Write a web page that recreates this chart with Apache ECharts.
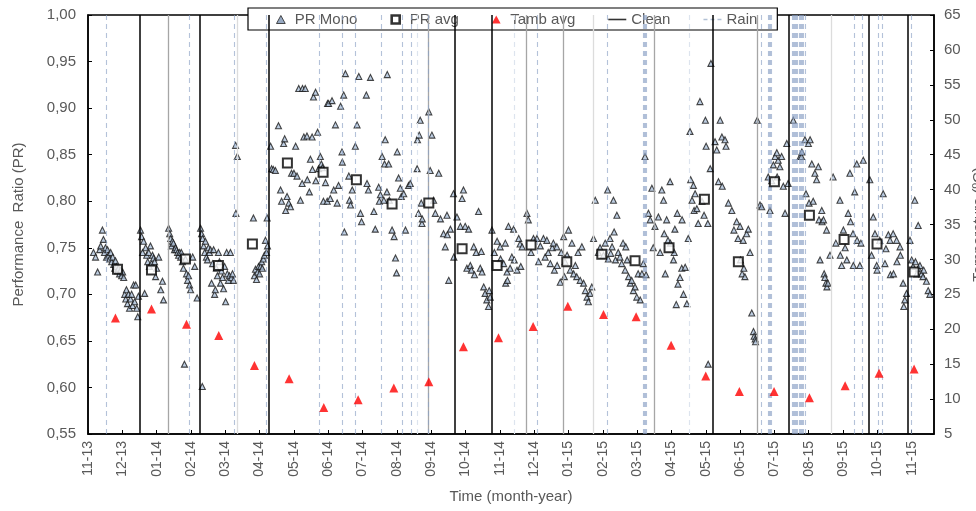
<!DOCTYPE html>
<html>
<head>
<meta charset="utf-8">
<script src="https://cdn.jsdelivr.net/npm/echarts@6/dist/echarts.min.js"></script>
<style>
  html, body { margin: 0; padding: 0; background: #fff; }
  #chart { width: 976px; height: 511px; }
</style>
</head>
<body>
<div id="chart"></div>
<script>
// x values are months counted from 1 Nov 2013 (0 = 11-13, 24 = 11-15)
var monthLabels = ['11-13', '12-13', '01-14', '02-14', '03-14', '04-14', '05-14', '06-14', '07-14',
  '08-14', '09-14', '10-14', '11-14', '12-14', '01-15', '02-15', '03-15', '04-15', '05-15',
  '06-15', '07-15', '08-15', '09-15', '10-15', '11-15'];

// daily PR of the mono module [month, PR]
var prMono = [
  [0.16, 0.745], [0.22, 0.74], [0.28, 0.724], [0.34, 0.748], [0.37, 0.752], [0.42, 0.769], [0.45, 0.759],
  [0.48, 0.745], [0.51, 0.75], [0.54, 0.74], [0.57, 0.748], [0.60, 0.742], [0.63, 0.738], [0.66, 0.745],
  [0.69, 0.735], [0.72, 0.74], [0.75, 0.732], [0.78, 0.728], [0.80, 0.736], [0.83, 0.73], [0.86, 0.725],
  [0.89, 0.728], [0.92, 0.722], [0.95, 0.726], [0.98, 0.72], [1.01, 0.724], [1.04, 0.718],
  [1.07, 0.70], [1.10, 0.695], [1.12, 0.705], [1.15, 0.69], [1.18, 0.70], [1.21, 0.685], [1.24, 0.695],
  [1.27, 0.70], [1.30, 0.688], [1.33, 0.71], [1.36, 0.692], [1.39, 0.71], [1.42, 0.685], [1.45, 0.676],
  [1.47, 0.698],
  [1.53, 0.769], [1.56, 0.762], [1.59, 0.745], [1.62, 0.757], [1.65, 0.701], [1.68, 0.75], [1.71, 0.742],
  [1.74, 0.735], [1.77, 0.745], [1.79, 0.73], [1.82, 0.752], [1.85, 0.733], [1.88, 0.742], [1.91, 0.739],
  [1.94, 0.735], [1.97, 0.719], [2.00, 0.728], [2.06, 0.74], [2.12, 0.705], [2.17, 0.714], [2.20, 0.694],
  [2.35, 0.771], [2.38, 0.765], [2.41, 0.76], [2.43, 0.752], [2.46, 0.757], [2.49, 0.755], [2.52, 0.748],
  [2.55, 0.75], [2.58, 0.748], [2.61, 0.745], [2.64, 0.742], [2.67, 0.745], [2.70, 0.74], [2.72, 0.745],
  [2.75, 0.735], [2.78, 0.728], [2.81, 0.625], [2.84, 0.738], [2.87, 0.722], [2.90, 0.715], [2.93, 0.72],
  [2.96, 0.71], [2.99, 0.705], [3.05, 0.74], [3.11, 0.73], [3.18, 0.696],
  [3.28, 0.771], [3.31, 0.765], [3.33, 0.601], [3.34, 0.76], [3.37, 0.752], [3.40, 0.745], [3.42, 0.757],
  [3.45, 0.74], [3.48, 0.737], [3.51, 0.75], [3.54, 0.745], [3.57, 0.748], [3.60, 0.712], [3.63, 0.733],
  [3.66, 0.748], [3.69, 0.70], [3.71, 0.705], [3.74, 0.728], [3.77, 0.72], [3.80, 0.745], [3.83, 0.735],
  [3.86, 0.712], [3.89, 0.725], [3.92, 0.718], [3.95, 0.706], [3.98, 0.73], [4.01, 0.692], [4.04, 0.745],
  [4.06, 0.722], [4.09, 0.715], [4.12, 0.72], [4.15, 0.745], [4.18, 0.718], [4.21, 0.722], [4.24, 0.715],
  [4.30, 0.86], [4.31, 0.787], [4.35, 0.848],
  [4.82, 0.782], [4.85, 0.72], [4.88, 0.727], [4.91, 0.716], [4.94, 0.724], [4.97, 0.73], [5.00, 0.722],
  [5.03, 0.73], [5.06, 0.735], [5.08, 0.728], [5.11, 0.738], [5.14, 0.742], [5.17, 0.758], [5.20, 0.745],
  [5.22, 0.782], [5.23, 0.752],
  [5.32, 0.859], [5.35, 0.835], [5.40, 0.834], [5.46, 0.833], [5.55, 0.881], [5.61, 0.812], [5.64, 0.80],
  [5.70, 0.862], [5.73, 0.867], [5.76, 0.79], [5.80, 0.805], [5.85, 0.798], [5.90, 0.794], [5.93, 0.83],
  [6.00, 0.83], [6.05, 0.859], [6.09, 0.827], [6.14, 0.921], [6.19, 0.801], [6.24, 0.819], [6.25, 0.921],
  [6.29, 0.869], [6.33, 0.921], [6.38, 0.87], [6.39, 0.823], [6.45, 0.81], [6.48, 0.845], [6.53, 0.869],
  [6.54, 0.834], [6.57, 0.912], [6.63, 0.917], [6.64, 0.822], [6.69, 0.874], [6.72, 0.835], [6.77, 0.848],
  [6.80, 0.84], [6.83, 0.836], [6.86, 0.80], [6.92, 0.82], [6.97, 0.80], [6.98, 0.905], [7.01, 0.905],
  [7.06, 0.803], [7.11, 0.908], [7.16, 0.812], [7.21, 0.882], [7.26, 0.798], [7.30, 0.817], [7.36, 0.902],
  [7.40, 0.853], [7.41, 0.842], [7.45, 0.914], [7.47, 0.767], [7.50, 0.937], [7.60, 0.827], [7.62, 0.801],
  [7.65, 0.796], [7.70, 0.812], [7.79, 0.859], [7.84, 0.882], [7.89, 0.934], [7.94, 0.787], [7.97, 0.778],
  [8.11, 0.914], [8.13, 0.819], [8.17, 0.812], [8.23, 0.933], [8.33, 0.789], [8.37, 0.77], [8.47, 0.815],
  [8.49, 0.80], [8.52, 0.807], [8.57, 0.848], [8.62, 0.801], [8.64, 0.84], [8.66, 0.866], [8.71, 0.81],
  [8.72, 0.936], [8.76, 0.84], [8.78, 0.801], [8.86, 0.769], [8.92, 0.762], [8.96, 0.739], [8.99, 0.723],
  [9.01, 0.853], [9.05, 0.825], [9.10, 0.814], [9.13, 0.805], [9.20, 0.808], [9.25, 0.769], [9.34, 0.817],
  [9.39, 0.819], [9.59, 0.835], [9.60, 0.866], [9.63, 0.787], [9.65, 0.871], [9.68, 0.887], [9.71, 0.798],
  [9.73, 0.776], [9.74, 0.781], [9.93, 0.896], [9.97, 0.833], [10.02, 0.871], [10.07, 0.801], [10.12, 0.787],
  [10.22, 0.83], [10.27, 0.781], [10.36, 0.765], [10.41, 0.751], [10.46, 0.785], [10.47, 0.764],
  [10.51, 0.715], [10.56, 0.77],
  [10.65, 0.808], [10.66, 0.74], [10.75, 0.783], [10.85, 0.773], [10.90, 0.803], [10.94, 0.812],
  [10.99, 0.773], [11.04, 0.728], [11.09, 0.77], [11.14, 0.731], [11.17, 0.726], [11.24, 0.751],
  [11.26, 0.721], [11.31, 0.745], [11.38, 0.789], [11.43, 0.728], [11.46, 0.746], [11.48, 0.724],
  [11.53, 0.708], [11.57, 0.701], [11.62, 0.694], [11.67, 0.687], [11.69, 0.704], [11.72, 0.697],
  [11.77, 0.769], [11.84, 0.745], [11.92, 0.757], [12.01, 0.751], [12.02, 0.738], [12.11, 0.733],
  [12.16, 0.755], [12.17, 0.712], [12.21, 0.724], [12.22, 0.715], [12.25, 0.773], [12.30, 0.728],
  [12.35, 0.74], [12.40, 0.77], [12.42, 0.737], [12.50, 0.726], [12.55, 0.76], [12.59, 0.754],
  [12.61, 0.73], [12.65, 0.751],
  [12.79, 0.787], [12.83, 0.78], [12.91, 0.745], [12.98, 0.76], [13.08, 0.76], [13.13, 0.735], [13.18, 0.752],
  [13.27, 0.76], [13.32, 0.74], [13.37, 0.758], [13.41, 0.745], [13.47, 0.733], [13.53, 0.75], [13.56, 0.755],
  [13.59, 0.726], [13.66, 0.751], [13.67, 0.731], [13.76, 0.713], [13.79, 0.745], [13.86, 0.762], [13.88, 0.719],
  [13.90, 0.735], [13.96, 0.742], [14.00, 0.769], [14.05, 0.726], [14.10, 0.755], [14.15, 0.722], [14.20, 0.731],
  [14.24, 0.719], [14.28, 0.745], [14.34, 0.715], [14.39, 0.751], [14.44, 0.712], [14.49, 0.704], [14.54, 0.697],
  [14.58, 0.692], [14.63, 0.701], [14.68, 0.708], [14.73, 0.76], [14.78, 0.801],
  [14.87, 0.745], [14.92, 0.75], [15.02, 0.742], [15.07, 0.755], [15.14, 0.812], [15.16, 0.738], [15.21, 0.76],
  [15.23, 0.744], [15.27, 0.751], [15.31, 0.801], [15.33, 0.767], [15.37, 0.737], [15.41, 0.785], [15.45, 0.745],
  [15.50, 0.74], [15.55, 0.733], [15.59, 0.755], [15.65, 0.726], [15.67, 0.751], [15.71, 0.737], [15.75, 0.719],
  [15.80, 0.712], [15.84, 0.715], [15.89, 0.704], [15.94, 0.708], [15.99, 0.697], [16.03, 0.722], [16.09, 0.694],
  [16.14, 0.722], [16.18, 0.733],
  [16.23, 0.848], [16.26, 0.721], [16.33, 0.787], [16.38, 0.78], [16.43, 0.814], [16.47, 0.75], [16.52, 0.773],
  [16.62, 0.783], [16.67, 0.745], [16.72, 0.812], [16.77, 0.801], [16.79, 0.765], [16.82, 0.722], [16.86, 0.78],
  [16.90, 0.758], [16.96, 0.821], [16.97, 0.755], [17.06, 0.737], [17.08, 0.745], [17.10, 0.77], [17.14, 0.689],
  [17.17, 0.787], [17.19, 0.711], [17.25, 0.718], [17.30, 0.728], [17.31, 0.78], [17.35, 0.70], [17.40, 0.729],
  [17.45, 0.69], [17.49, 0.76], [17.54, 0.875], [17.56, 0.823], [17.60, 0.801], [17.64, 0.817], [17.66, 0.79],
  [17.69, 0.808], [17.74, 0.792], [17.78, 0.776], [17.83, 0.907], [17.89, 0.80], [17.95, 0.785], [17.99, 0.887],
  [18.01, 0.859], [18.06, 0.776], [18.07, 0.625], [18.13, 0.835], [18.15, 0.948],
  [18.27, 0.864], [18.32, 0.855], [18.37, 0.821], [18.42, 0.887], [18.47, 0.869], [18.48, 0.816], [18.56, 0.866],
  [18.59, 0.859], [18.66, 0.798], [18.76, 0.79], [18.82, 0.769], [18.90, 0.778], [18.94, 0.76], [19.00, 0.773],
  [19.01, 0.737], [19.06, 0.722], [19.09, 0.758], [19.11, 0.728], [19.14, 0.719], [19.19, 0.765], [19.24, 0.77],
  [19.29, 0.745], [19.34, 0.68], [19.39, 0.66], [19.41, 0.655], [19.44, 0.652], [19.45, 0.649],
  [19.50, 0.887], [19.58, 0.796], [19.63, 0.794], [19.82, 0.826], [19.87, 0.79], [19.92, 0.822], [19.97, 0.839],
  [20.02, 0.848], [20.07, 0.852], [20.08, 0.826], [20.11, 0.844], [20.16, 0.837], [20.21, 0.848], [20.26, 0.816],
  [20.31, 0.787], [20.36, 0.862], [20.40, 0.819],
  [20.55, 0.887], [20.75, 0.848], [20.79, 0.848], [20.80, 0.853], [20.89, 0.866], [20.92, 0.808], [20.99, 0.862],
  [21.01, 0.798], [21.04, 0.866], [21.09, 0.84], [21.13, 0.80], [21.18, 0.83], [21.23, 0.823], [21.28, 0.837],
  [21.30, 0.78], [21.33, 0.737], [21.38, 0.79], [21.39, 0.778], [21.43, 0.78], [21.45, 0.722], [21.47, 0.718],
  [21.50, 0.712], [21.52, 0.769], [21.53, 0.708], [21.56, 0.712], [21.62, 0.742], [21.71, 0.826], [21.79, 0.755],
  [21.91, 0.801], [21.92, 0.742], [21.96, 0.731], [22.01, 0.769], [22.06, 0.75], [22.11, 0.737], [22.15, 0.787],
  [22.20, 0.83], [22.22, 0.778], [22.29, 0.765], [22.30, 0.731], [22.34, 0.81], [22.40, 0.84], [22.41, 0.758],
  [22.49, 0.731], [22.52, 0.755], [22.59, 0.844],
  [22.78, 0.823], [22.83, 0.742], [22.88, 0.783], [22.93, 0.765], [22.98, 0.731], [22.99, 0.726], [23.07, 0.758],
  [23.17, 0.808], [23.22, 0.733], [23.25, 0.749], [23.32, 0.764], [23.37, 0.758], [23.38, 0.721], [23.46, 0.765],
  [23.47, 0.722], [23.56, 0.758], [23.57, 0.735], [23.66, 0.751], [23.67, 0.742], [23.75, 0.712], [23.77, 0.687],
  [23.80, 0.694], [23.85, 0.701],
  [23.95, 0.758], [24.00, 0.737], [24.04, 0.73], [24.09, 0.801], [24.11, 0.735], [24.15, 0.722], [24.19, 0.774],
  [24.20, 0.728], [24.24, 0.731], [24.29, 0.722], [24.33, 0.719], [24.35, 0.726], [24.43, 0.714], [24.48, 0.704],
  [24.53, 0.70]
];

// monthly averages
var avgMonths = [0.86, 1.85, 2.84, 3.80, 4.79, 5.81, 6.85, 7.82, 8.86, 9.93, 10.90, 11.92,
  12.91, 13.95, 14.97, 15.94, 16.93, 17.96, 18.95, 20.00, 21.02, 22.03, 22.99, 24.07];
var prAvg = [0.727, 0.726, 0.738, 0.731, 0.754, 0.841, 0.831, 0.823, 0.797, 0.798, 0.749, 0.731,
  0.753, 0.735, 0.743, 0.736, 0.750, 0.802, 0.735, 0.821, 0.785, 0.759, 0.754, 0.724];
var tambMonths = [0.80, 1.85, 2.87, 3.81, 4.85, 5.86, 6.87, 7.87, 8.91, 9.93, 10.94, 11.96,
  12.97, 13.98, 15.02, 15.97, 16.99, 18.00, 18.98, 19.99, 21.02, 22.06, 23.05, 24.07];
var tambAvg = [21.6, 22.9, 20.7, 19.1, 14.8, 12.9, 8.8, 9.9, 11.6, 12.5, 17.5, 18.8,
  20.4, 23.3, 22.1, 21.8, 17.7, 13.3, 11.1, 11.1, 10.2, 11.9, 13.7, 14.3];

// event days
var cleanDays = [1.52, 3.26, 5.28, 10.68, 11.77, 18.20, 20.43, 22.75, 23.88];
var partialCleanDays = [2.33, 9.90, 12.76, 13.85, 16.50, 19.50];
var lightCleanDays = [4.35, 14.71, 21.65];
var rainDays = [0.54, 2.94, 4.25, 5.20, 6.75, 7.40, 7.79, 8.55, 9.15, 9.41, 9.90, 13.08, 15.14,
  16.18, 16.21, 16.24, 16.27, 19.61, 19.82, 19.85, 19.88, 19.91,
  20.53, 20.56, 20.59, 20.62, 20.65, 20.68, 20.71, 20.74, 20.77, 20.80, 20.83, 20.91,
  22.33, 22.57, 23.03, 23.15, 23.98];
var lightRainDays = [9.59, 12.43, 17.52];

var FONT = 'Liberation Sans';
var TXT = '#595959';
var RAIN = 'rgba(140,162,196,0.65)';

function vlines(days) {
  return days.map(function (d) { return { xAxis: d }; });
}

function eventSeries(name, days, style) {
  return {
    name: name, type: 'scatter', data: [], z: 2,
    itemStyle: { color: style.color },
    markLine: {
      silent: true, symbol: 'none', label: { show: false },
      lineStyle: style,
      data: vlines(days)
    }
  };
}

var chart = echarts.init(document.getElementById('chart'));

chart.setOption({
  animation: false,
  textStyle: { fontFamily: FONT },
  grid: {
    left: 88, right: 42, top: 15, bottom: 77,
    outerBoundsMode: 'none', containLabel: false,
    show: true, borderColor: '#000', borderWidth: 1.5, backgroundColor: 'transparent'
  },
  legend: {
    left: 248, top: 8,
    padding: [4, 20, 3, 28],
    itemGap: 33,
    itemWidth: 18, itemHeight: 8,
    backgroundColor: '#fff', borderColor: '#000', borderWidth: 1.2, borderRadius: 0,
    textStyle: { fontFamily: FONT, fontSize: 15, color: TXT },
    data: [
      { name: 'PR Mono', icon: 'path://M3,0L6,5.5L0,5.5Z',
        itemStyle: { color: '#7d93b3', borderColor: '#222', borderWidth: 1 } },
      { name: 'PR avg', icon: 'path://M0,0H7V7H0Z',
        itemStyle: { color: '#fff', borderColor: '#000', borderWidth: 2.6 } },
      { name: 'Tamb avg', icon: 'path://M3,0L6,5.5L0,5.5Z', itemStyle: { color: '#ff0000' } },
      { name: 'Clean', icon: 'path://M0,0H18V1.6H0Z', itemStyle: { color: '#000' } },
      { name: 'Rain', icon: 'path://M0,0H4V1.4H0Z M7,0H11V1.4H7Z M14,0H18V1.4H14Z',
        itemStyle: { color: '#9fb1cb' } }
    ]
  },
  xAxis: {
    type: 'value', min: 0, max: 24.65, interval: 1,
    name: 'Time (month-year)', nameLocation: 'middle', nameGap: 55,
    nameTextStyle: { fontFamily: FONT, fontSize: 15, color: TXT },
    axisLine: { lineStyle: { color: '#000', width: 1.5 } },
    axisTick: { inside: true, length: 4, lineStyle: { color: '#000' } },
    axisLabel: {
      rotate: 90, margin: 7, fontSize: 14, color: TXT, fontFamily: FONT,
      showMaxLabel: false,
      formatter: function (v) {
        return Math.abs(v - Math.round(v)) < 1e-6 ? (monthLabels[Math.round(v)] || '') : '';
      }
    },
    splitLine: { show: false }
  },
  yAxis: [{
    type: 'value', min: 0.55, max: 1.0, interval: 0.05,
    name: 'Performance  Ratio (PR)', nameLocation: 'middle', nameGap: 62,
    nameTextStyle: { fontFamily: FONT, fontSize: 15, color: TXT },
    axisLine: { show: true, lineStyle: { color: '#000', width: 1.5 } },
    axisTick: { show: true, inside: true, length: 4, lineStyle: { color: '#000' } },
    axisLabel: {
      margin: 12, fontSize: 15, color: TXT, fontFamily: FONT,
      formatter: function (v) { return v.toFixed(2).replace('.', ','); }
    },
    splitLine: { show: false }
  }, {
    type: 'value', min: 5, max: 65, interval: 5, position: 'right',
    name: 'Temperature (ºC)', nameLocation: 'middle', nameGap: 30, nameRotate: 90,
    nameTextStyle: { fontFamily: FONT, fontSize: 15, color: TXT },
    axisLine: { show: true, lineStyle: { color: '#000', width: 1.5 } },
    axisTick: { show: true, inside: true, length: 4, lineStyle: { color: '#000' } },
    axisLabel: { margin: 10, fontSize: 15, color: TXT, fontFamily: FONT },
    splitLine: { show: false }
  }],
  series: [
    eventSeries('Clean', cleanDays, { color: '#000', width: 1.5, type: 'solid' }),
    eventSeries('Clean (partial)', partialCleanDays, { color: '#a6a6a6', width: 1.3, type: 'solid' }),
    eventSeries('Clean (light)', lightCleanDays, { color: '#dcdcdc', width: 1.3, type: 'solid' }),
    eventSeries('Rain', rainDays, { color: RAIN, width: 1.1, type: [5, 4] }),
    eventSeries('Rain (light)', lightRainDays, { color: '#dde4ee', width: 1.2, type: [5, 4] }),
    {
      name: 'PR Mono', type: 'scatter', z: 4,
      symbol: 'triangle', symbolSize: 6,
      itemStyle: { color: '#adc0da', borderColor: '#1a1a1a', borderWidth: 1.1 },
      data: prMono
    },
    {
      name: 'PR avg', type: 'scatter', z: 5,
      symbol: 'rect', symbolSize: 9,
      itemStyle: { color: '#fff', borderColor: '#000', borderWidth: 2 },
      data: avgMonths.map(function (m, i) { return [m, prAvg[i]]; })
    },
    {
      name: 'Tamb avg', type: 'scatter', yAxisIndex: 1, z: 5,
      symbol: 'triangle', symbolSize: 9,
      itemStyle: { color: '#ff0000' },
      data: tambMonths.map(function (m, i) { return [m, tambAvg[i]]; })
    }
  ]
});
</script>
</body>
</html>
